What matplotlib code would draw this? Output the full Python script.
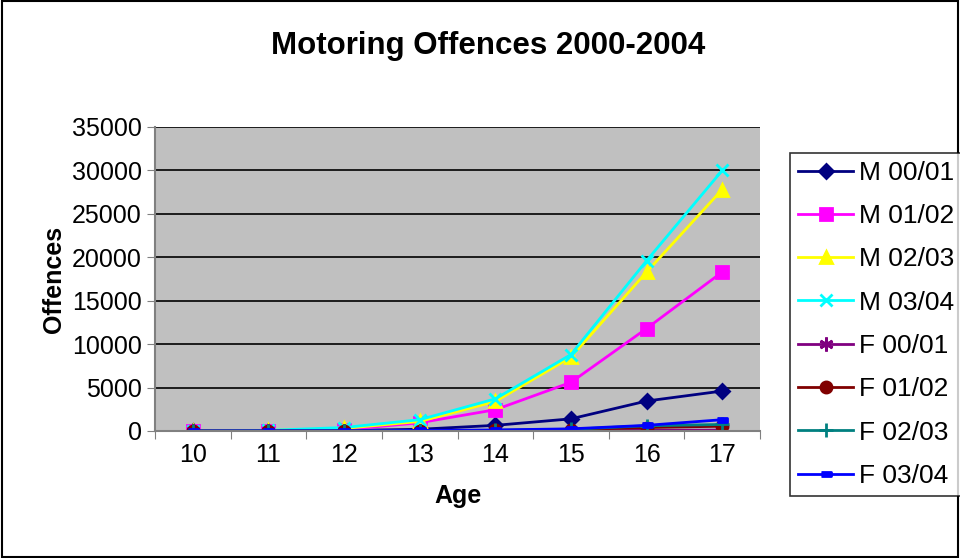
import matplotlib.pyplot as plt
from matplotlib.patches import Rectangle

plt.rcParams['font.family'] = ['Liberation Sans', 'DejaVu Sans']

ages = [10, 11, 12, 13, 14, 15, 16, 17]
m_0001 = [0, 20, 60, 200, 650, 1400, 3450, 4600]
m_0102 = [0, 40, 150, 950, 2450, 5600, 11800, 18300]
m_0203 = [0, 60, 300, 1100, 3400, 8500, 18300, 27800]
m_0304 = [0, 80, 400, 1300, 3700, 8800, 19600, 30000]
f_0001 = [0, 0, 5, 10, 20, 40, 70, 100]
f_0102 = [0, 0, 10, 30, 60, 150, 400, 550]
f_0203 = [0, 0, 15, 40, 80, 200, 600, 750]
f_0304 = [0, 5, 20, 60, 120, 250, 650, 1300]

bar = [(-1, -0.45), (1, -0.45), (1, 0.45), (-1, 0.45)]
series = [
    ('M 00/01', m_0001, '#000080', 'D', 7),
    ('M 01/02', m_0102, '#FF00FF', 's', 8),
    ('M 02/03', m_0203, '#FFFF00', '^', 9),
    ('M 03/04', m_0304, '#00FFFF', 'x', 9),
    ('F 00/01', f_0001, '#800080', (6, 2, 0), 10),
    ('F 01/02', f_0102, '#800000', 'o', 8),
    ('F 02/03', f_0203, '#008080', '+', 10),
    ('F 03/04', f_0304, '#0000FF', bar, 7),
]

fig = plt.figure(figsize=(9.6, 5.58), dpi=100)
ax = fig.add_axes([155/960, 1-431/558, 605/960, 304/558])
ax.set_facecolor('#C0C0C0')

xs = list(range(len(ages)))
for name, vals, col, mk, ms in series:
    ax.plot(xs, vals, color=col, lw=2, marker=mk, ms=ms, mew=2,
            mec=col, mfc=col, label=name)

ax.set_xlim(-0.5, len(ages) - 0.5)
ax.set_ylim(0, 35000)
ax.set_yticks(range(0, 35001, 5000))
ax.yaxis.grid(True, color='black', lw=1.2)
ax.set_axisbelow(True)
ax.set_xticks([x - 0.5 for x in range(len(ages) + 1)])
ax.set_xticklabels([])
ax.set_xticks(xs, minor=True)
ax.set_xticklabels([str(a) for a in ages], minor=True)
ax.tick_params(axis='x', which='minor', length=0, labelsize=18, pad=9)
ax.tick_params(axis='x', which='major', length=6, direction='out', color='#808080')
ax.tick_params(axis='y', labelsize=18, length=6, color='#808080')
for s in ['top', 'right']:
    ax.spines[s].set_visible(False)
for s in ['left', 'bottom']:
    ax.spines[s].set_color('#808080')
    ax.spines[s].set_linewidth(1.5)

ax.set_xlabel('Age', fontsize=18, fontweight='bold', labelpad=12)
ax.set_ylabel('Offences', fontsize=18, fontweight='bold', labelpad=4)
fig.suptitle('Motoring Offences 2000-2004', fontsize=22.5, fontweight='bold',
             x=0.508, y=0.945)

leg = fig.legend(loc='upper left', bbox_to_anchor=(790/960, 1-153/558),
                 fontsize=19, frameon=True, fancybox=False, edgecolor='black',
                 labelspacing=0.73, handlelength=2.1, handletextpad=0.2,
                 borderpad=0.3, borderaxespad=0)
leg.get_frame().set_linewidth(1.2)

fig.patches.append(Rectangle((0.002, 0.002), 0.996, 0.996, transform=fig.transFigure,
                             fill=False, edgecolor='black', lw=1.5))

fig.savefig('out.png', dpi=100, facecolor='white')
